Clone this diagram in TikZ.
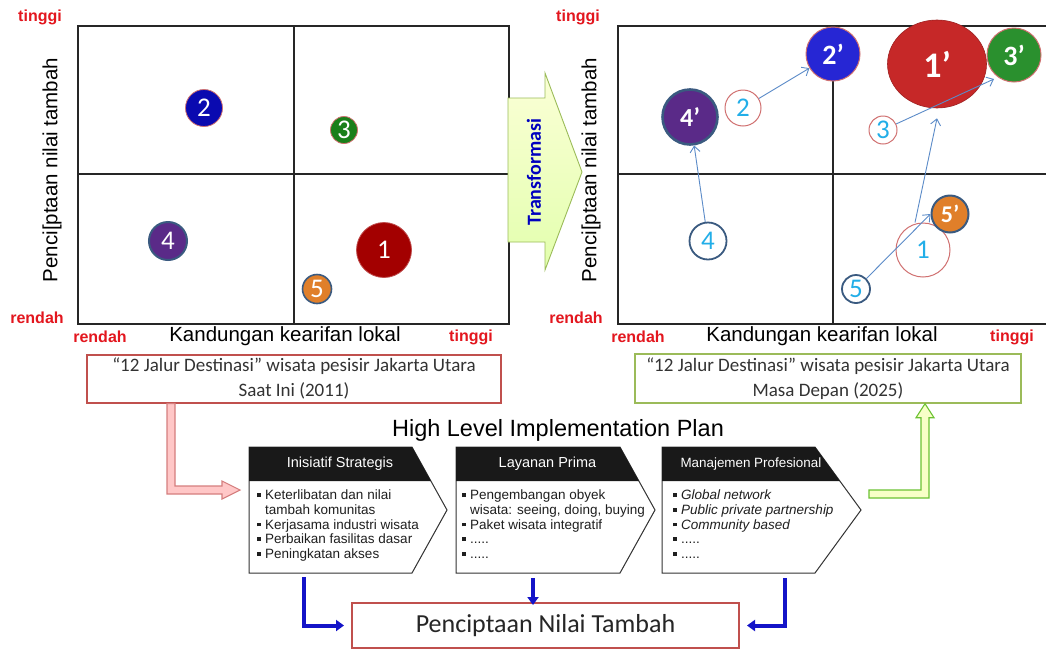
\documentclass[tikz,border=0pt]{standalone}
\usepackage{fontspec}
\setmainfont{Liberation Sans}
\newfontfamily\calfont{Carlito}
\usetikzlibrary{arrows.meta,calc,shapes.geometric}
\definecolor{lblred}{HTML}{E3161E}
\definecolor{boxred}{HTML}{C0504D}
\definecolor{boxgreen}{HTML}{9BBB59}
\definecolor{arrblue}{HTML}{5B8BC8}
\definecolor{numcyan}{HTML}{22AEE8}
\definecolor{ringblue}{HTML}{3A5A80}
\definecolor{ringred}{HTML}{D07070}
\definecolor{cA}{HTML}{A30000}
\definecolor{cB}{HTML}{0A0AB0}
\definecolor{cC}{HTML}{1A7F1A}
\definecolor{cD}{HTML}{5A2A88}
\definecolor{cE}{HTML}{E07F2A}
\definecolor{pA}{HTML}{C62828}
\definecolor{pB}{HTML}{2626D4}
\definecolor{pC}{HTML}{2A902E}
\definecolor{dblue}{HTML}{1414C8}
\definecolor{trgreen}{HTML}{9BBB59}
\definecolor{txtgray}{HTML}{333333}
\newcommand\bul{\makebox[8pt][l]{\rule[2.8pt]{3.8pt}{3.8pt}}}
\newcommand\ind{\hspace*{8pt}}
\newcommand\chevron[6]{%
  \pgfmathsetmacro\hx{#3+(#4-#3)*34/63}
  \draw[line width=1pt, draw=black!80] (#2,447) -- (#3,447) -- (#4,510) -- (#3,573) -- (#2,573) -- cycle;
  \fill[black!90] (#2,447) -- (#3,447) -- (\hx,481) -- (#2,481) -- cycle;
  \node[hdr, font=\fontsize{#6}{#6}\selectfont] (#1h) at ({(#2+\hx)/2},464) {#5};
  \coordinate (#1w) at (#2,510);
  \coordinate (#1t) at (#4,510);
}
\begin{document}
\begin{tikzpicture}[x=1pt,y=-1pt,
  lbl/.style={text=lblred, font=\bfseries\fontsize{16}{18}\selectfont, inner sep=0pt},
  axislbl/.style={font=\fontsize{20.5}{24}\selectfont, inner sep=0pt},
  chartframe/.style={draw=black!85, line width=1.2pt},
  numdot/.style={circle, inner sep=0pt, text=white, font=\calfont\fontsize{27}{27}\selectfont},
  pdot/.style={circle, inner sep=0pt, text=white, font=\calfont\bfseries\fontsize{28}{28}\selectfont},
  odot/.style={circle, inner sep=0pt, fill=white, text=numcyan, font=\calfont\fontsize{27}{27}\selectfont},
  mvarrow/.style={draw=arrblue, line width=0.9pt, -{Straight Barb[length=6pt,width=10pt]}},
  hdr/.style={text=white, inner sep=0pt},
  bodytext/.style={anchor=north west, align=left, inner sep=0pt, text=black!88, font=\fontsize{13.5}{14.6}\selectfont},
  capbox/.style={align=center, text=txtgray, font=\calfont\fontsize{19}{25}\selectfont, line width=2pt},
  blarrow/.style={draw=dblue, line width=4pt, -{Triangle[length=8pt,width=11pt]}}
]
\useasboundingbox (0,0) rectangle (1046,670);
\fill[white] (0,0) rectangle (1046,670);

% ---------- left chart ----------
\draw[chartframe] (78,26) rectangle (509,324);
\draw[chartframe] (294,26) -- (294,324);
\draw[chartframe] (78,174) -- (509,174);
\node[lbl] (lt) at (40,17) {tinggi};
\node[lbl] (lr) at (37,318) {rendah};
\node[lbl] (lbr) at (100,337) {rendah};
\node[lbl] (lbt) at (471,337) {tinggi};
\node[axislbl] (lx) at (285,336) {Kandungan kearifan lokal};
\node[axislbl, rotate=90] (ly) at (52,170) {Penci[ptaan nilai tambah};

\node[numdot, fill=cB, draw=ringred, line width=0.8pt, minimum size=37pt] (l2) at (204,108) {2};
\node[numdot, fill=cC, draw=ringred, line width=0.8pt, minimum size=27pt] (l3) at (344,130) {3};
\node[numdot, fill=cD, draw=ringblue, line width=2pt, minimum size=38pt] (l4) at (168,241) {4};
\node[numdot, fill=cA, draw=cA!70, line width=0.8pt, minimum size=55pt] (l1) at (384,250) {1};
\node[numdot, fill=cE, draw=ringblue, line width=1.6pt, minimum size=29pt] (l5) at (317,289) {5};

% ---------- transformation arrow ----------
\path[draw=trgreen, line width=0.9pt, top color=green!10!yellow!16, bottom color=green!35!yellow!32]
  (508,98) -- (545,98) -- (545,73) -- (582,172) -- (545,270) -- (545,242) -- (508,242) -- cycle;
\node[rotate=90, text=blue!75!black, font=\calfont\bfseries\fontsize{20}{20}\selectfont] (tr) at (534,172) {Transformasi};

% ---------- right chart ----------
\draw[chartframe] (1046,26) -- (618,26) -- (618,324) -- (1046,324);
\draw[chartframe] (833,26) -- (833,324);
\draw[chartframe] (618,174) -- (1046,174);
\node[lbl] (rt) at (578,17) {tinggi};
\node[lbl] (rr) at (576,318) {rendah};
\node[lbl] (rbr) at (638,337) {rendah};
\node[lbl] (rbt) at (1012,337) {tinggi};
\node[axislbl] (rx) at (822,336) {Kandungan kearifan lokal};
\node[axislbl, rotate=90] (ry) at (591,170) {Penci[ptaan nilai tambah};

\node[odot, draw=ringred, line width=1pt, minimum size=36pt] (o2) at (743,108) {2};
\node[odot, draw=ringred, line width=1pt, minimum size=28pt] (o3) at (883,130) {3};
\node[odot, draw=ringblue, line width=1.8pt, minimum size=37pt] (o4) at (708,241) {4};
\node[odot, draw=ringred, line width=1pt, minimum size=54pt] (o1) at (923,250) {1};
\node[odot, draw=ringblue, line width=1.8pt, minimum size=28pt] (o5) at (856,289) {5};

\node[pdot, fill=pB, draw=ringred, line width=1pt, minimum size=54pt] (p2) at (833,54) {2’};
\node[ellipse, inner sep=0pt, fill=pA, draw=pA!80!black, line width=0.6pt, minimum width=99pt, minimum height=88pt, text=white, font=\calfont\bfseries\fontsize{36}{36}\selectfont] (p1) at (937,64) {1’};
\node[pdot, fill=pC, draw=ringred, line width=1pt, minimum size=54pt] (p3) at (1014,55) {3’};
\node[pdot, fill=cD, draw=ringblue, line width=2.6pt, minimum size=55pt, font=\calfont\bfseries\fontsize{26}{26}\selectfont] (p4) at (690,117) {4’};
\node[pdot, fill=cE, draw=ringblue, line width=2pt, minimum size=37pt, font=\calfont\bfseries\fontsize{24}{24}\selectfont] (p5) at (950,214) {5’};

\draw[mvarrow] (o2) -- (p2);
\draw[mvarrow] (o4) -- (p4);
\draw[mvarrow] (o3) -- ([xshift=-20pt,yshift=-24pt]p3.center);
\draw[mvarrow] ([xshift=-8pt]o1.north) -- ([yshift=-10pt]p1.south);
\draw[mvarrow] (o5) -- (p5.west);

% ---------- caption boxes ----------
\node[capbox, draw=boxred, minimum width=414pt, minimum height=45pt] (now) at (294,378.5)
  {“12 Jalur Destinasi” wisata pesisir Jakarta Utara\\Saat Ini (2011)};
\node[capbox, draw=boxgreen, minimum width=386pt, minimum height=45pt] (fut) at (828,378.5)
  {“12 Jalur Destinasi” wisata pesisir Jakarta Utara\\Masa Depan (2025)};

\node[font=\fontsize{23.5}{26}\selectfont] (hl) at (558,430) {High Level Implementation Plan};

% ---------- chevrons ----------
\chevron{ca}{249}{412}{447}{Inisiatif Strategis}{14.5}
\chevron{cb}{456}{620}{655}{Layanan Prima}{14.5}
\chevron{cc}{662}{815}{861}{Manajemen Profesional}{13.4}
\node[bodytext] (ba) at (257,490) {\bul Keterlibatan dan nilai\\\ind tambah komunitas\\\bul Kerjasama industri wisata\\\bul Perbaikan fasilitas dasar\\\bul Peningkatan akses};
\node[bodytext] (bb) at (462,490) {\bul Pengembangan obyek\\\ind wisata: seeing, doing, buying\\\bul Paket wisata integratif\\\bul .....\\\bul .....};
\node[bodytext] (bc) at (673,490) {\bul\textit{Global network}\\\bul\textit{Public private partnership}\\\bul\textit{Community based}\\\bul .....\\\bul .....};

% ---------- hollow arrows ----------
\coordinate (pa) at ([xshift=85pt]now.south west);
\coordinate (pt) at ($(caw)+(-9,-20)$);
\draw[draw=ringred!90, fill=red!22, line width=1.1pt, line join=miter]
  ($(pa)+(-4,0)$) -- ($(pa)+(4,0)$) -- ($(pa|-pt)+(4,-4)$) -- ($(pt)+(-18,-4)$) -- ($(pt)+(-18,-9)$)
  -- (pt) -- ($(pt)+(-18,9)$) -- ($(pt)+(-18,4)$) -- ($(pa|-pt)+(-4,4)$) -- cycle;
\coordinate (gt) at ([xshift=291pt]fut.south west);
\coordinate (gs) at ($(cct)+(8,-16)$);
\draw[draw=green!60!yellow!70!black!80, fill=green!12!yellow!22, line width=1.1pt, line join=miter]
  ($(gs)+(0,-4)$) -- ($(gt|-gs)+(-4,-4)$) -- ($(gt)+(-4,14)$) -- ($(gt)+(-9,14)$) -- (gt)
  -- ($(gt)+(9,14)$) -- ($(gt)+(4,14)$) -- ($(gt|-gs)+(4,4)$) -- ($(gs)+(0,4)$) -- cycle;

% ---------- value creation ----------
\node[capbox, draw=boxred, minimum width=387pt, minimum height=45pt, font=\calfont\fontsize{26}{28}\selectfont, text=black!85] (pnt) at (545.5,625.5) {Penciptaan Nilai Tambah};
\coordinate (da) at (304,577);
\coordinate (db) at (533,578);
\coordinate (dc) at (785,578);
\draw[blarrow] (da) |- ([xshift=-7pt]pnt.west);
\draw[blarrow] (db) -- ([yshift=-3pt]db |- pnt.north);
\draw[blarrow] (dc) |- ([xshift=7pt]pnt.east);
\end{tikzpicture}
\end{document}
